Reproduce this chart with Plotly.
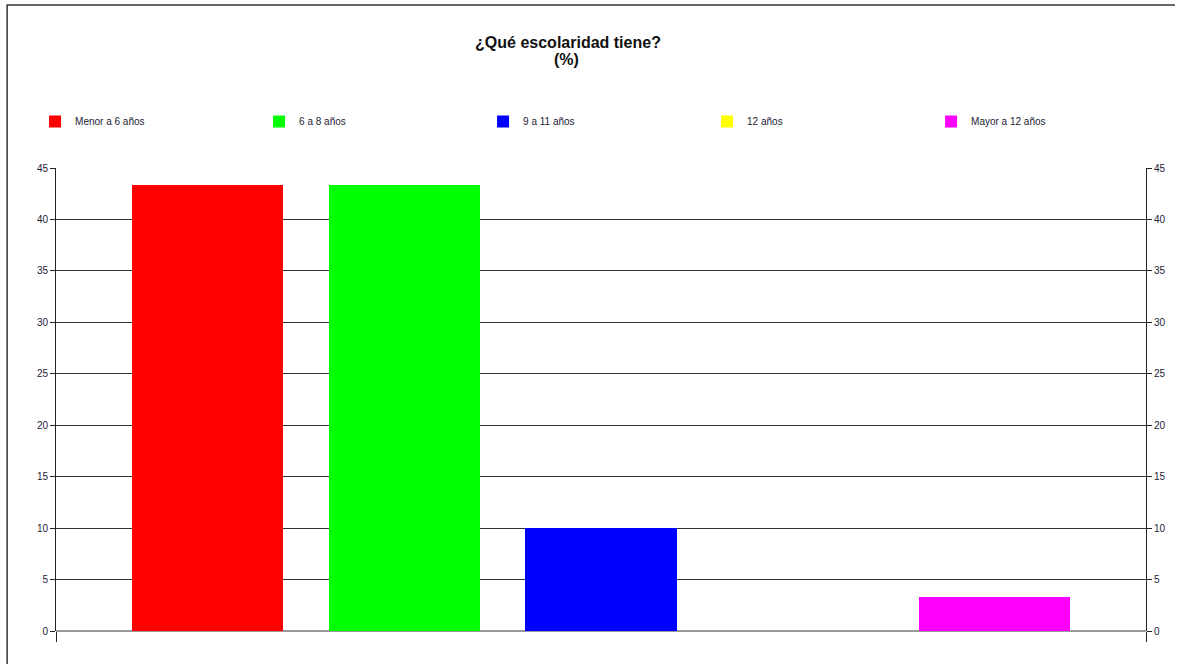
import plotly.graph_objects as go

# Survey answers: education level (%)
categories = ["Menor a 6 años", "6 a 8 años", "9 a 11 años", "12 años", "Mayor a 12 años"]
values = [43.33, 43.33, 10.0, 0.0, 3.33]
colors = ["#FF0000", "#00FF00", "#0000FF", "#FFFF00", "#FF00FF"]
y_ticks = [0, 5, 10, 15, 20, 25, 30, 35, 40, 45]
title_main = "¿Qué escolaridad tiene?"
title_unit = "(%)"

W, H = 1178, 664
L, R, T, B = 56, 29, 168, 33
plot_w = W - L - R
plot_h = H - T - B

fig = go.Figure()
for i, (name, val, col) in enumerate(zip(categories, values, colors)):
    fig.add_trace(go.Bar(
        x=[i], y=[val], name=name, width=0.77,
        marker=dict(color=col, line=dict(width=0)),
        yaxis="y",
    ))

# invisible trace carrying the mirrored right-hand axis
fig.add_trace(go.Scatter(x=[0], y=[0], yaxis="y2", mode="markers",
                         marker=dict(opacity=0), showlegend=False, hoverinfo="skip"))

x_lo, x_hi = -0.77, 4.77
font_family = "Liberation Sans, Arial, sans-serif"
tick_font = dict(family=font_family, size=10, color="#222233")

fig.update_layout(
    width=W, height=H,
    margin=dict(l=L, r=R, t=T, b=B),
    paper_bgcolor="white", plot_bgcolor="white",
    bargap=0,
    title=dict(
        text="<b>" + title_main + "</b>",
        x=568 / W, xanchor="center", xref="container",
        y=1 - 42 / H, yanchor="middle", yref="container",
        font=dict(family=font_family, size=16, color="#111111"),
    ),
    legend=dict(
        orientation="h",
        x=(35 - L) / plot_w, xanchor="left",
        y=(H - B - 121.5) / plot_h, yanchor="middle",
        entrywidth=179, entrywidthmode="pixels",
        font=dict(family=font_family, size=10, color="#222233"),
        bgcolor="rgba(0,0,0,0)",
        traceorder="normal",
    ),
    xaxis=dict(
        range=[x_lo, x_hi],
        tickvals=[x_lo, x_hi], ticktext=["", ""],
        ticks="outside", ticklen=10, tickcolor="#222222", tickwidth=1,
        showgrid=False, zeroline=False, showline=False,
        showticklabels=False, fixedrange=True,
    ),
    yaxis=dict(
        range=[0, 45], tickvals=y_ticks,
        ticks="outside", ticklen=5, tickcolor="#222222",
        showline=True, linecolor="#222222", linewidth=1,
        showgrid=True, gridcolor="#333333", gridwidth=1,
        zeroline=True, zerolinecolor="#999999", zerolinewidth=2,
        tickfont=tick_font,
    ),
    yaxis2=dict(
        range=[0, 45], tickvals=y_ticks, overlaying="y", side="right",
        ticks="outside", ticklen=5, tickcolor="#222222",
        showline=True, linecolor="#222222", linewidth=1,
        showgrid=False, zeroline=False,
        tickfont=tick_font,
    ),
    showlegend=True,
)

# second title line
fig.add_annotation(
    text="<b>" + title_unit + "</b>", showarrow=False,
    xref="paper", yref="paper",
    x=(568 - L) / plot_w, y=(H - B - 60) / plot_h,
    xanchor="center", yanchor="middle",
    font=dict(family=font_family, size=16, color="#111111"),
)

# outer chart frame (left and top edges) as one open path
fx0 = (7 - L) / plot_w
fx1 = (W - L) / plot_w
fy0 = (H - B - 5) / plot_h
fy1 = (H - B - H) / plot_h
fig.add_shape(type="path", xref="paper", yref="paper",
              path=f"M {fx0},{fy1} L {fx0},{fy0} L {fx1},{fy0}",
              line=dict(color="#333333", width=1.5))

fig.write_html(
    "out.html",
    config={"displayModeBar": False},
    post_script="document.documentElement.style.overflow='hidden';"
                "document.body.style.overflow='hidden';",
)
